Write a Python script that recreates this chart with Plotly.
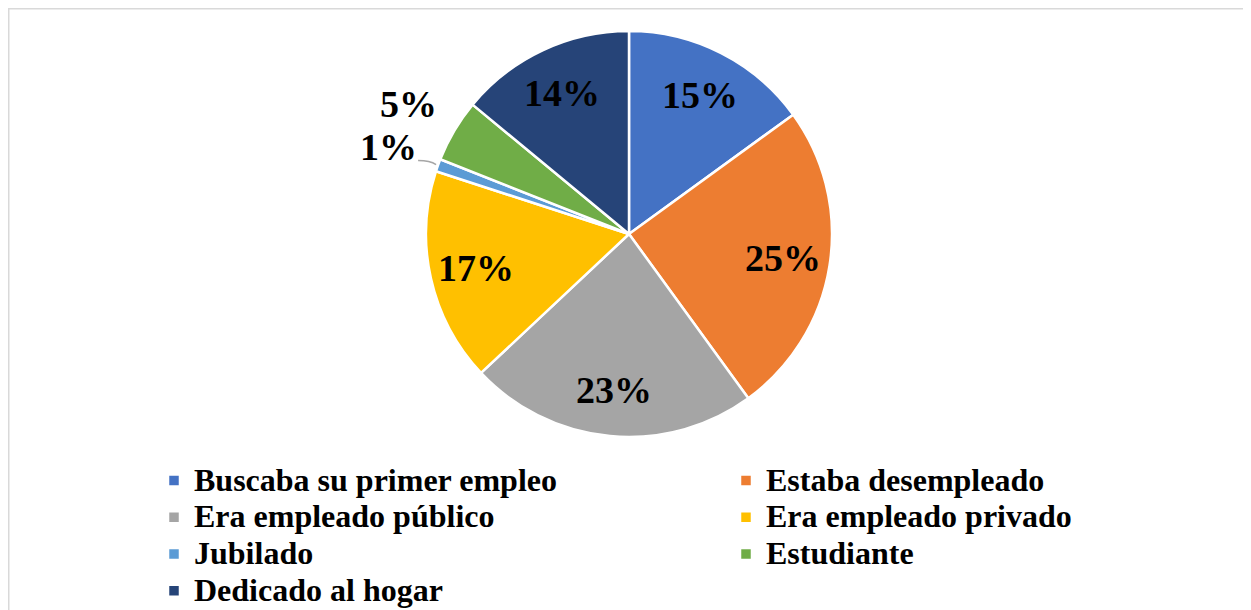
import math
import plotly.graph_objects as go

categories = ["Buscaba su primer empleo", "Estaba desempleado", "Era empleado público",
              "Era empleado privado", "Jubilado", "Estudiante", "Dedicado al hogar"]
values = [15, 25, 23, 17, 1, 5, 14]
colors = ["#4472C4", "#ED7D31", "#A5A5A5", "#FFC000", "#5B9BD5", "#70AD47", "#264478"]
outside = [False, False, False, False, True, True, False]

W, H = 1251, 610
FONT = "Liberation Serif"
CX, CY, R = 621, 226, 203  # pie placement in pixels (figure coords)

legend_labels = [f'<span style="font-size:32px">{c}</span>' for c in categories]

fig = go.Figure()
fig.add_trace(go.Pie(
    labels=legend_labels, values=values, sort=False, direction="clockwise", rotation=0,
    marker=dict(colors=colors, line=dict(color="white", width=2.5)),
    textinfo="none",
    domain=dict(x=[(CX - R) / W, (CX + R) / W], y=[(H - CY - R) / H, (H - CY + R) / H]),
    hovertext=categories, hoverinfo="text+percent",
))

# percentage labels positioned from the data (mid-angle of each slice)
annotations = []
shapes = []
total = sum(values)
cum = 0
for v, o in zip(values, outside):
    mid = (cum + v / 2) / total * 2 * math.pi
    cum += v
    sx, sy = math.sin(mid), -math.cos(mid)
    rf = 1.26 if o else 0.77
    lx, ly = CX + rf * R * sx, CY + rf * R * sy
    annotations.append(dict(xref="paper", yref="paper", x=lx / W, y=1 - ly / H,
                            xanchor="center", yanchor="middle",
                            text=f"{v}%", showarrow=False,
                            font=dict(family=FONT, size=38, color="black", weight="bold")))
    if o and v < 2:
        ex, ey = CX + 1.01 * R * sx, CY + 1.01 * R * sy
        shapes.append(dict(type="path", xref="paper", yref="paper",
                           path=f"M {ex / W} {1 - ey / H} Q {(ex - 6) / W} {1 - (ey - 4) / H} {(ex - 18) / W} {1 - (ey - 4) / H}",
                           line=dict(color="#A6A6A6", width=1.5)))

shapes.append(dict(type="rect", xref="paper", yref="paper",
                   x0=0.75 / W, x1=1.05, y0=-0.05, y1=1 - 0.75 / H,
                   line=dict(color="#D9D9D9", width=1.5), fillcolor="rgba(0,0,0,0)", layer="below"))

fig.update_layout(
    width=W, height=H,
    margin=dict(l=0, r=0, t=0, b=0, autoexpand=False),
    paper_bgcolor="white",
    font=dict(family=FONT, color="black"),
    legend=dict(
        orientation="h", x=146 / W, xanchor="left", y=(H - 449) / H, yanchor="top",
        entrywidth=527, entrywidthmode="pixels",
        font=dict(family=FONT, size=26, color="black", weight="bold"),
        itemwidth=30, traceorder="normal",
    ),
    annotations=annotations,
    shapes=shapes,
)

fig.write_html("out.html")
